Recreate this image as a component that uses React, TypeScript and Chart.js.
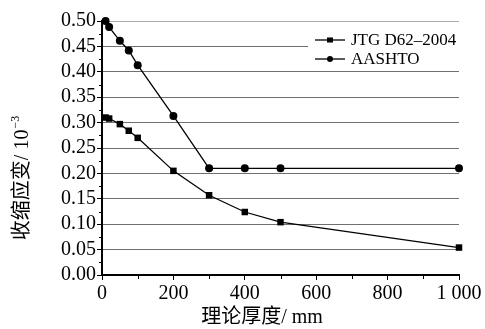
import React, { useEffect, useRef } from "react";
import { Chart, registerables } from "chart.js";

Chart.register(...registerables);

const thickness = [10, 20, 50, 75, 100, 200, 300, 400, 500, 1000];
const jtgValues = [0.31, 0.308, 0.297, 0.284, 0.27, 0.205, 0.157, 0.124, 0.104, 0.054];
const aashtoValues = [0.5, 0.488, 0.461, 0.442, 0.413, 0.313, 0.21, 0.21, 0.21, 0.21];
const seriesNames = ["JTG D62\u20132004", "AASHTO"];
const xTitle = "理论厚度/ mm";
const yTitle = "收缩应变/ 10";
const yTitleSup = "\u22123";

const SERIF = "'Liberation Serif', 'Noto Sans CJK SC', serif";

const minorTicksPlugin = {
  id: "minorTicks",
  afterDraw(chart: any) {
    const ctx = chart.ctx;
    const y = chart.scales.y;
    const x = chart.scales.x;
    ctx.save();
    ctx.strokeStyle = "#000";
    ctx.lineWidth = 1;
    for (let v = 0.025; v < 0.5; v += 0.05) {
      const py = Math.round(y.getPixelForValue(v)) + 0.5;
      ctx.beginPath();
      ctx.moveTo(y.right, py);
      ctx.lineTo(y.right - 3, py);
      ctx.stroke();
    }
    for (let v = 100; v < 1000; v += 200) {
      const px = Math.round(x.getPixelForValue(v)) + 0.5;
      ctx.beginPath();
      ctx.moveTo(px, x.top);
      ctx.lineTo(px, x.top + 4);
      ctx.stroke();
    }
    ctx.restore();
  },
};

const titlesPlugin = {
  id: "axisTitles",
  afterDraw(chart: any) {
    const ctx = chart.ctx;
    ctx.save();
    ctx.fillStyle = "#000";
    ctx.font = `20px ${SERIF}`;
    ctx.textAlign = "center";
    ctx.textBaseline = "middle";
    ctx.fillText(xTitle, 262, 318);

    ctx.translate(23, 178);
    ctx.rotate(-Math.PI / 2);
    ctx.font = `20px ${SERIF}`;
    const mainW = ctx.measureText(yTitle).width;
    ctx.font = `12px ${SERIF}`;
    const supW = ctx.measureText(yTitleSup).width;
    const total = mainW + supW + 1;
    ctx.textAlign = "left";
    ctx.font = `20px ${SERIF}`;
    ctx.fillText(yTitle, -total / 2, 0);
    ctx.font = `12px ${SERIF}`;
    ctx.fillText(yTitleSup, -total / 2 + mainW + 1, -7);
    ctx.restore();
  },
};

const legendPlugin = {
  id: "customLegend",
  afterDatasetsDraw(chart: any) {
    const ctx = chart.ctx;
    ctx.save();
    ctx.fillStyle = "#fff";
    ctx.fillRect(308, 30, 156, 38);
    const rows = [
      { y: 40, style: "rect", name: seriesNames[0] },
      { y: 59, style: "circle", name: seriesNames[1] },
    ];
    rows.forEach((r) => {
      ctx.strokeStyle = "#000";
      ctx.lineWidth = 1.3;
      ctx.beginPath();
      ctx.moveTo(315, r.y);
      ctx.lineTo(345, r.y);
      ctx.stroke();
      ctx.fillStyle = "#000";
      if (r.style === "rect") {
        ctx.fillRect(327, r.y - 2.5, 6, 5);
      } else {
        ctx.beginPath();
        ctx.arc(330, r.y, 3, 0, Math.PI * 2);
        ctx.fill();
      }
      ctx.font = `17px ${SERIF}`;
      ctx.textAlign = "left";
      ctx.textBaseline = "middle";
      ctx.fillText(r.name, 351, r.y + 1);
    });
    ctx.restore();
  },
};

export default function App() {
  const canvasRef = useRef<HTMLCanvasElement | null>(null);

  useEffect(() => {
    document.body.style.margin = "0";
    const canvas = canvasRef.current;
    if (!canvas) return;
    const chart = new Chart(canvas, {
      type: "line",
      data: {
        datasets: [
          {
            label: seriesNames[0],
            data: thickness.map((t, i) => ({ x: t, y: jtgValues[i] })),
            borderColor: "#000",
            backgroundColor: "#000",
            borderWidth: 1.3,
            pointStyle: "rect",
            pointRadius: 4.6,
            pointBorderWidth: 0,
            tension: 0,
            clip: false as any,
          },
          {
            label: seriesNames[1],
            data: thickness.map((t, i) => ({ x: t, y: aashtoValues[i] })),
            borderColor: "#000",
            backgroundColor: "#000",
            borderWidth: 1.3,
            pointStyle: "circle",
            pointRadius: 4,
            pointBorderWidth: 0,
            tension: 0,
            clip: false as any,
          },
        ],
      },
      options: {
        responsive: false,
        animation: false,
        layout: { padding: { left: 0, right: 26, top: 21, bottom: 0 } },
        plugins: {
          legend: { display: false },
          tooltip: { enabled: false },
        },
        scales: {
          x: {
            type: "linear",
            min: 0,
            max: 1000,
            border: { color: "#000", width: 2 },
            grid: {
              drawOnChartArea: false,
              drawTicks: true,
              tickLength: 5,
              tickColor: "#000",
              tickWidth: 1,
            },
            ticks: {
              stepSize: 200,
              color: "#000",
              font: { family: SERIF, size: 20 },
              padding: 2,
              maxRotation: 0,
              autoSkip: false,
              callback: (v: any) => (Number(v) === 1000 ? "1 000" : String(v)),
            },
            afterFit: (scale: any) => {
              scale.height = 54;
            },
          },
          y: {
            type: "linear",
            min: 0,
            max: 0.5,
            border: { color: "#000", width: 2 },
            grid: {
              drawTicks: true,
              tickLength: 5,
              tickColor: "#000",
              tickWidth: 1,
              lineWidth: 1,
              color: (c: any) =>
                c.tick && Math.abs(c.tick.value - 0.5) < 1e-6 ? "#aaaaaa" : "#707070",
            },
            ticks: {
              stepSize: 0.05,
              color: "#000",
              font: { family: SERIF, size: 20 },
              padding: 1,
              autoSkip: false,
              callback: (v: any) => Number(v).toFixed(2),
            },
            afterFit: (scale: any) => {
              scale.width = 102;
            },
          },
        },
      },
      plugins: [minorTicksPlugin, legendPlugin, titlesPlugin],
    });
    return () => chart.destroy();
  }, []);

  return (
    <div style={{ width: 485, height: 329, background: "#fff" }}>
      <canvas ref={canvasRef} width={485} height={329} />
    </div>
  );
}
